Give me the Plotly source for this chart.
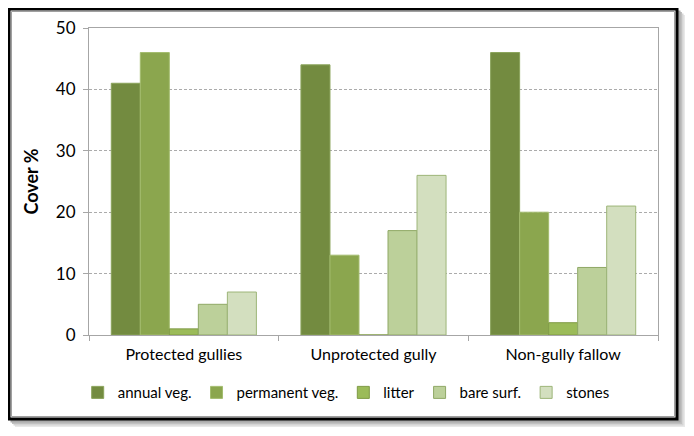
import plotly.graph_objects as go

categories = ["Protected gullies", "Unprotected gully", "Non-gully fallow"]
series_names = ["annual veg.", "permanent veg.", "litter", "bare surf.", "stones"]
annual_veg = [41, 44, 46]
permanent_veg = [46, 13, 20]
litter = [1, 0, 2]
bare_surf = [5, 17, 11]
stones = [7, 26, 21]
y_ticks = [0, 10, 20, 30, 40, 50]

values = [annual_veg, permanent_veg, litter, bare_surf, stones]
fills = ["#738B40", "#8BA64E", "#9BBB59", "#BCD09A", "#D3DFBF"]
edges = ["#8AA35A", "#A3BC6E", "#7F9A45", "#8FA865", "#9DB578"]

# page is offset by the 8px body margin
OFF = 8
W, H = 694 - OFF, 436 - OFF
L, R, T, B = 89 - OFF, 36, 28 - OFF, 101
pw, ph = W - L - R, H - T - B

def px(x):
    return (x - OFF - L) / pw

def py(y):
    return (H - B - (y - OFF)) / ph

fig = go.Figure()
for name, vals, fc, ec in zip(series_names, values, fills, edges):
    fig.add_trace(go.Bar(
        x=categories, y=vals, name=name,
        marker=dict(color=fc, line=dict(color=ec, width=1)),
    ))

shapes = []
# shadow
for i, col in enumerate(["#E8E8E8", "#D4D4D4", "#C0C0C0", "#AAAAAA"]):
    off = 7 - i * 1.5
    shapes.append(dict(type="rect", xref="paper", yref="paper", layer="below",
                       x0=px(8 + off), x1=px(678 + off), y0=py(420 + off), y1=py(8 + off),
                       line=dict(width=0), fillcolor=col))
# frame
shapes.append(dict(type="rect", xref="paper", yref="paper", layer="below",
                   x0=px(9), x1=px(677), y0=py(419), y1=py(9),
                   line=dict(color="#000000", width=3), fillcolor="#FFFFFF"))
shapes.append(dict(type="rect", xref="paper", yref="paper", layer="below",
                   x0=px(11.5), x1=px(674.5), y0=py(416.5), y1=py(11.5),
                   line=dict(color="#A0A0A0", width=1), fillcolor="rgba(0,0,0,0)"))

fig.update_layout(
    width=W, height=H,
    margin=dict(l=L, r=R, t=T, b=B, autoexpand=False),
    paper_bgcolor="rgba(0,0,0,0)",
    plot_bgcolor="#EEF2E8",
    barmode="group", bargap=0.235, bargroupgap=0,
    font=dict(family="Lato, Open Sans, sans-serif", size=16, color="#000000"),
    shapes=shapes,
    showlegend=True,
    legend=dict(orientation="h", x=0.452, xanchor="center", y=-0.134, yanchor="top",
                font=dict(size=15), itemwidth=30, tracegroupgap=0,
                bgcolor="rgba(0,0,0,0)"),
    xaxis=dict(showline=True, linecolor="#A6A6A6", linewidth=1, mirror=True,
               ticks="outside", tickson="boundaries", ticklen=5, tickcolor="#A6A6A6",
               tickfont=dict(size=16), automargin=False, ticklabelstandoff=5),
    yaxis=dict(range=[0, 50], tickvals=y_ticks, showline=True, linecolor="#A6A6A6",
               linewidth=1, mirror=True, ticks="outside", ticklen=5, tickcolor="#A6A6A6",
               showgrid=True, gridcolor="#ABABAB", griddash="3px,2px", gridwidth=1,
               zeroline=False, tickfont=dict(size=17), automargin=False,
               ticklabelstandoff=4,
               title=dict(text="<b>Cover %</b>", font=dict(size=18), standoff=12)),
)

fig.write_html("out.html")
